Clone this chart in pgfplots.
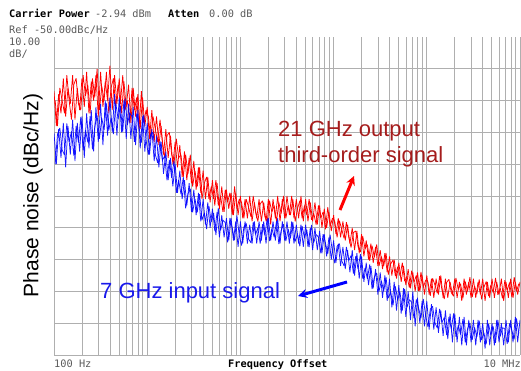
\documentclass[border=0pt]{standalone}
\usepackage{pgfplots}
\usepackage{pgfplotstable}
\pgfplotsset{compat=1.18}
\usetikzlibrary{arrows.meta}
\usepackage{fontspec}
\setmainfont{Liberation Sans}
\newfontfamily\monofont{DejaVu Sans Mono}
\definecolor{gridgray}{RGB}{175,175,175}
\definecolor{txtred}{RGB}{165,28,28}
\definecolor{txtblue}{RGB}{25,25,235}
\definecolor{hdrgray}{RGB}{90,90,90}

\pgfplotstableread{
x y
2.000 -67
2.025 -78
2.050 -68
2.075 -74
2.100 -63
2.125 -75
2.150 -66
2.175 -71
2.200 -62
2.225 -76
2.250 -66
2.275 -73
2.300 -63
2.325 -72
2.350 -61
2.375 -74
2.400 -64
2.425 -70
2.450 -62
2.475 -75
2.500 -61
2.525 -72
2.550 -64
2.575 -70
2.600 -59
2.625 -73
2.650 -62
2.675 -71
2.700 -63
2.725 -74
2.750 -64
2.775 -72
2.800 -65
2.825 -77
2.850 -66
2.875 -75
2.900 -68
2.925 -79
2.950 -69
2.975 -78
3.000 -72
3.025 -82
3.050 -73
3.075 -83
3.100 -75
3.125 -84
3.150 -78
3.175 -87
3.200 -79
3.225 -88
3.250 -81
3.275 -90
3.300 -83
3.325 -91
3.350 -84
3.375 -94
3.400 -86
3.425 -95
3.450 -88
3.475 -96
3.500 -89
3.525 -98
3.550 -91
3.575 -99
3.600 -92
3.625 -101
3.650 -94
3.675 -102
3.700 -95
3.725 -103
3.750 -96
3.775 -104
3.800 -97
3.825 -105
3.850 -98
3.875 -104
3.900 -99
3.925 -106
3.950 -99
3.975 -106
4.000 -100
4.025 -107
4.050 -101
4.075 -107
4.100 -100
4.125 -108
4.150 -102
4.175 -107
4.200 -101
4.225 -108
4.250 -102
4.275 -108
4.300 -101
4.325 -109
4.350 -101
4.375 -107
4.400 -100
4.425 -108
4.450 -101
4.475 -107
4.500 -100
4.525 -106
4.550 -100
4.575 -107
4.600 -101
4.625 -107
4.650 -100
4.675 -108
4.700 -101
4.725 -108
4.750 -102
4.775 -108
4.800 -102
4.825 -109
4.850 -103
4.875 -110
4.900 -104
4.925 -110
4.950 -105
4.975 -111
5.000 -106
5.025 -112
5.050 -107
5.075 -113
5.100 -108
5.125 -114
5.150 -109
5.175 -115
5.200 -110
5.225 -117
5.250 -111
5.275 -118
5.300 -112
5.325 -119
5.350 -114
5.375 -120
5.400 -115
5.425 -121
5.450 -116
5.475 -122
5.500 -117
5.525 -123
5.550 -118
5.575 -124
5.600 -119
5.625 -125
5.650 -120
5.675 -126
5.700 -121
5.725 -127
5.750 -122
5.775 -128
5.800 -123
5.825 -129
5.850 -124
5.875 -130
5.900 -124
5.925 -130
5.950 -125
5.975 -131
6.000 -125
6.025 -131
6.050 -126
6.075 -132
6.100 -126
6.125 -131
6.150 -125
6.175 -132
6.200 -126
6.225 -132
6.250 -127
6.275 -131
6.300 -126
6.325 -132
6.350 -127
6.375 -133
6.400 -126
6.425 -131
6.450 -127
6.475 -132
6.500 -126
6.525 -132
6.550 -127
6.575 -131
6.600 -126
6.625 -133
6.650 -127
6.675 -132
6.700 -126
6.725 -132
6.750 -127
6.775 -131
6.800 -126
6.825 -133
6.850 -127
6.875 -132
6.900 -126
6.925 -132
6.950 -127
6.975 -131
7.000 -127
}\redtab

\pgfplotstableread{
x y
2.0125 -70
2.0375 -78
2.0625 -66
2.0875 -70
2.1125 -74
2.1375 -62
2.1625 -70
2.1875 -76
2.2125 -65
2.2375 -63
2.2625 -71
2.2875 -73
2.3125 -62
2.3375 -68.5
2.3625 -65
2.3875 -74
2.4125 -63
2.4375 -69
2.4625 -60
2.4875 -73
2.5125 -65.5
2.5375 -70
2.5625 -61
2.5875 -74
2.6125 -66
2.6375 -63
2.6625 -72
2.6875 -65
2.7125 -71
2.7375 -62
2.7625 -73
2.7875 -70
2.8125 -77
2.8375 -66
2.8625 -73
2.8875 -69
2.9125 -79
2.9375 -67
2.9625 -77
2.9875 -73
3.0125 -75
3.0375 -82
3.0625 -75
3.0875 -79
3.1125 -83
3.1375 -76
3.1625 -83
3.1875 -88
3.2125 -81
3.2375 -80
3.2625 -87
3.2875 -90
3.3125 -82
3.3375 -88
3.3625 -87
3.3875 -94
3.4125 -87
3.4375 -93
3.4625 -87
3.4875 -97
3.5125 -92
3.5375 -97
3.5625 -91
3.5875 -101
3.6125 -96
3.6375 -94
3.6625 -101
3.6875 -97
3.7125 -101
3.7375 -95
3.7625 -103
3.7875 -100
3.8125 -105
3.8375 -98
3.8625 -102
3.8875 -99
3.9125 -106
3.9375 -97
3.9625 -104
3.9875 -101
4.0125 -102
4.0375 -107
4.0625 -101
4.0875 -103.5
4.1125 -106.5
4.1375 -100
4.1625 -105
4.1875 -108
4.2125 -102.5
4.2375 -101.5
4.2625 -106.5
4.2875 -108
4.3125 -101.5
4.3375 -105
4.3625 -103
4.3875 -108
4.4125 -102
4.4375 -105.5
4.4625 -100
4.4875 -107
4.5125 -103
4.5375 -106
4.5625 -101
4.5875 -108
4.6125 -104
4.6375 -101.5
4.6625 -107
4.6875 -103
4.7125 -106
4.7375 -101
4.7625 -107.5
4.7875 -105.5
4.8125 -109
4.8375 -103
4.8625 -107
4.8875 -105
4.9125 -110.5
4.9375 -103.5
4.9625 -109.5
4.9875 -107
5.0125 -108
5.0375 -113
5.0625 -107.8
5.0875 -110.5
5.1125 -113.3
5.1375 -108.2
5.1625 -113
5.1875 -116.2
5.2125 -111.5
5.2375 -111
5.2625 -116
5.2875 -117.6
5.3125 -112.6
5.3375 -116.6
5.3625 -115.3
5.3875 -120.4
5.4125 -115.6
5.4375 -119.3
5.4625 -115.2
5.4875 -122
5.5125 -119
5.5375 -122
5.5625 -117.9
5.5875 -124.7
5.6125 -121.4
5.6375 -120.1
5.6625 -125.2
5.6875 -122.2
5.7125 -125.1
5.7375 -121
5.7625 -126.8
5.7875 -125.2
5.8125 -128.8
5.8375 -123.5
5.8625 -127.1
5.8875 -125
5.9125 -129.9
5.9375 -123.9
5.9625 -128.7
5.9875 -126.5
6.0125 -127
6.0375 -131.4
6.0625 -125.9
6.0875 -128
6.1125 -130.6
6.1375 -125.2
6.1625 -129.5
6.1875 -132.4
6.2125 -127.2
6.2375 -126.2
6.2625 -130.4
6.2875 -131.5
6.3125 -125.8
6.3375 -129.4
6.3625 -127.6
6.3875 -132.2
6.4125 -126.9
6.4375 -130
6.4625 -125.5
6.4875 -131.8
6.5125 -128.3
6.5375 -130.8
6.5625 -126.2
6.5875 -132.5
6.6125 -128.7
6.6375 -126.9
6.6625 -131.5
6.6875 -128
6.7125 -130.4
6.7375 -125.8
6.7625 -131.1
6.7875 -129
6.8125 -132.2
6.8375 -126.5
6.8625 -129.7
6.8875 -127.2
6.9125 -131.8
6.9375 -125.5
6.9625 -130
6.9875 -127.6
}\redtabb

\pgfplotstableread{
x y
2.000 -80
2.025 -90
2.050 -79
2.075 -88
2.100 -77
2.125 -91
2.150 -78
2.175 -87
2.200 -76
2.225 -89
2.250 -77
2.275 -86
2.300 -75
2.325 -88
2.350 -74
2.375 -85
2.400 -73
2.425 -86
2.450 -72
2.475 -83
2.500 -71
2.525 -84
2.550 -70
2.575 -81
2.600 -69
2.625 -80
2.650 -68
2.675 -81
2.700 -69
2.725 -80
2.750 -70
2.775 -82
2.800 -71
2.825 -82
2.850 -72
2.875 -84
2.900 -73
2.925 -85
2.950 -75
2.975 -86
3.000 -77
3.025 -87
3.050 -79
3.075 -89
3.100 -81
3.125 -91
3.150 -83
3.175 -93
3.200 -86
3.225 -95
3.250 -88
3.275 -97
3.300 -90
3.325 -99
3.350 -92
3.375 -101
3.400 -95
3.425 -103
3.450 -96
3.475 -105
3.500 -98
3.525 -106
3.550 -99
3.575 -108
3.600 -101
3.625 -109
3.650 -102
3.675 -110
3.700 -104
3.725 -111
3.750 -105
3.775 -113
3.800 -106
3.825 -113
3.850 -107
3.875 -114
3.900 -107
3.925 -114
3.950 -108
3.975 -116
4.000 -108
4.025 -115
4.050 -108
4.075 -115
4.100 -109
4.125 -115
4.150 -108
4.175 -115
4.200 -108
4.225 -114
4.250 -108
4.275 -115
4.300 -107
4.325 -114
4.350 -108
4.375 -114
4.400 -107
4.425 -115
4.450 -108
4.475 -114
4.500 -108
4.525 -115
4.550 -108
4.575 -115
4.600 -109
4.625 -115
4.650 -109
4.675 -116
4.700 -109
4.725 -116
4.750 -110
4.775 -117
4.800 -110
4.825 -117
4.850 -111
4.875 -118
4.900 -112
4.925 -119
4.950 -113
4.975 -120
5.000 -114
5.025 -121
5.050 -115
5.075 -122
5.100 -116
5.125 -123
5.150 -117
5.175 -124
5.200 -117
5.225 -125
5.250 -118
5.275 -126
5.300 -119
5.325 -127
5.350 -121
5.375 -128
5.400 -122
5.425 -129
5.450 -123
5.475 -131
5.500 -124
5.525 -132
5.550 -125
5.575 -133
5.600 -126
5.625 -135
5.650 -127
5.675 -136
5.700 -128
5.725 -137
5.750 -129
5.775 -138
5.800 -130
5.825 -139
5.850 -130
5.875 -141
5.900 -132
5.925 -140
5.950 -133
5.975 -141
6.000 -133
6.025 -142
6.050 -134
6.075 -142
6.100 -135
6.125 -143
6.150 -136
6.175 -144
6.200 -136
6.225 -145
6.250 -137
6.275 -146
6.300 -137
6.325 -146
6.350 -138
6.375 -147
6.400 -138
6.425 -147
6.450 -139
6.475 -146
6.500 -139
6.525 -147
6.550 -139
6.575 -146
6.600 -140
6.625 -148
6.650 -139
6.675 -147
6.700 -140
6.725 -147
6.750 -139
6.775 -146
6.800 -140
6.825 -147
6.850 -139
6.875 -146
6.900 -139
6.925 -146
6.950 -138
6.975 -146
7.000 -139
}\bluetab

\pgfplotstableread{
x y
2.0125 -90
2.0375 -80.6
2.0625 -78.6
2.0875 -85.5
2.1125 -87.1
2.1375 -77.2
2.1625 -83
2.1875 -79.7
2.2125 -87.3
2.2375 -78
2.2625 -83.2
2.2875 -75.1
2.3125 -85.6
2.3375 -79.2
2.3625 -83.1
2.3875 -74.9
2.4125 -85.3
2.4375 -78.2
2.4625 -74.7
2.4875 -82
2.5125 -75.5
2.5375 -79.2
2.5625 -70.9
2.5875 -79.4
2.6125 -75.4
2.6375 -80.5
2.6625 -70.7
2.6875 -75.8
2.7125 -71.7
2.7375 -79.9
2.7625 -69.4
2.7875 -77.6
2.8125 -73.9
2.8375 -75.1
2.8625 -83
2.8875 -74
2.9125 -78.3
2.9375 -83.2
2.9625 -74.4
2.9875 -82.3
3.0125 -87
3.0375 -80.5
3.0625 -80
3.0875 -87
3.1125 -89.6
3.1375 -82.7
3.1625 -88.8
3.1875 -87.4
3.2125 -95.1
3.2375 -88.7
3.2625 -94.3
3.2875 -88.9
3.3125 -99
3.3375 -95
3.3625 -99.5
3.3875 -94
3.4125 -103.9
3.4375 -99.3
3.4625 -97.7
3.4875 -105.1
3.5125 -100.9
3.5375 -105.1
3.5625 -99.4
3.5875 -107.6
3.6125 -105.3
3.6375 -110.4
3.6625 -103.1
3.6875 -108.2
3.7125 -105.3
3.7375 -112.3
3.7625 -103.8
3.7875 -110.8
3.8125 -107.6
3.8375 -108.4
3.8625 -114.6
3.8875 -106.9
3.9125 -110.1
3.9375 -113.9
3.9625 -106.1
3.9875 -112.4
4.0125 -115.6
4.0375 -109.7
4.0625 -108.6
4.0875 -113.5
4.1125 -114.7
4.1375 -108.2
4.1625 -112.1
4.1875 -110
4.2125 -115
4.2375 -108.9
4.2625 -112.4
4.2875 -107.1
4.3125 -114.2
4.3375 -110.2
4.3625 -113
4.3875 -107.8
4.4125 -115.1
4.4375 -110.8
4.4625 -108.9
4.4875 -114.2
4.5125 -110.4
4.5375 -113.3
4.5625 -108.2
4.5875 -114.3
4.6125 -112.1
4.6375 -115.8
4.6625 -109.5
4.6875 -113.2
4.7125 -110.6
4.7375 -116.1
4.7625 -109.1
4.7875 -114.6
4.8125 -112.1
4.8375 -112.9
4.8625 -118
4.8875 -112
4.9125 -114.8
4.9375 -118.2
4.9625 -112.2
4.9875 -117.6
5.0125 -121.2
5.0375 -115.8
5.0625 -115
5.0875 -120.4
5.1125 -122
5.1375 -116
5.1625 -120.3
5.1875 -118.7
5.2125 -124.4
5.2375 -118.9
5.2625 -123
5.2875 -118.3
5.3125 -126
5.3375 -122.6
5.3625 -126.1
5.3875 -121.5
5.4125 -129.3
5.4375 -125.5
5.4625 -124.2
5.4875 -130
5.5125 -126.6
5.5375 -130
5.5625 -125.5
5.5875 -132.1
5.6125 -130.2
5.6375 -134.4
5.6625 -128.4
5.6875 -132.6
5.7125 -130.2
5.7375 -136
5.7625 -129.2
5.7875 -135
5.8125 -132.6
5.8375 -133.4
5.8625 -138.5
5.8875 -132.5
5.9125 -135.3
5.9375 -138.5
5.9625 -132.4
5.9875 -137.6
6.0125 -141.2
6.0375 -135.6
6.0625 -134.7
6.0875 -139.9
6.1125 -141.5
6.1375 -135.5
6.1625 -139.8
6.1875 -138.2
6.2125 -143.7
6.2375 -138
6.2625 -141.8
6.2875 -136.9
6.3125 -144.3
6.3375 -140.6
6.3625 -143.6
6.3875 -138.7
6.4125 -146.1
6.4375 -141.8
6.4625 -139.9
6.4875 -145.2
6.5125 -141.3
6.5375 -144.3
6.5625 -139.2
6.5875 -145.3
6.6125 -143
6.6375 -146.6
6.6625 -140.2
6.6875 -143.8
6.7125 -141
6.7375 -146.2
6.7625 -139
6.7875 -144.2
6.8125 -141.4
6.8375 -141.8
6.8625 -146.5
6.8875 -140.1
6.9125 -142.3
6.9375 -145.1
6.9625 -138.5
6.9875 -143.3
}\bluetabb

\begin{document}
\begin{tikzpicture}
\useasboundingbox (0,0) rectangle (521pt,371pt);
\begin{axis}[
  at={(54pt,16pt)}, anchor=south west,
  scale only axis, width=466pt, height=318pt,
  xmin=2, xmax=7, ymin=-150, ymax=-50,
  xtick={2,3,4,5,6,7},
  minor xtick={2.30103,2.47712,2.60206,2.69897,2.77815,2.84510,2.90309,2.95424,
               3.30103,3.47712,3.60206,3.69897,3.77815,3.84510,3.90309,3.95424,
               4.30103,4.47712,4.60206,4.69897,4.77815,4.84510,4.90309,4.95424,
               5.30103,5.47712,5.60206,5.69897,5.77815,5.84510,5.90309,5.95424,
               6.30103,6.47712,6.60206,6.69897,6.77815,6.84510,6.90309,6.95424},
  ytick={-150,-140,-130,-120,-110,-100,-90,-80,-70,-60},
  xticklabels={}, yticklabels={},
  major tick length=0pt, minor tick length=0pt,
  grid=both,
  major grid style={draw=gridgray, line width=0.9pt},
  minor grid style={draw=gridgray, line width=0.9pt},
  axis line style={draw=none},
  clip=true,
]
\addplot[red, line width=0.75pt, line join=bevel] table[x=x,y=y] {\redtab};
\addplot[red, line width=0.75pt, line join=bevel] table[x=x,y=y] {\redtabb};
\addplot[blue, line width=0.75pt, line join=bevel, opacity=0.9] table[x=x,y=y] {\bluetab};
\addplot[blue, line width=0.75pt, line join=bevel, opacity=0.9] table[x=x,y=y] {\bluetabb};
\end{axis}

% header
\node[anchor=base west, inner sep=0pt, font=\monofont\bfseries\fontsize{10.3}{12}\selectfont] at (9pt,353pt) {Carrier Power};
\node[anchor=base west, inner sep=0pt, text=hdrgray, font=\monofont\fontsize{10.3}{12}\selectfont] at (95pt,353pt) {-2.94 dBm};
\node[anchor=base west, inner sep=0pt, font=\monofont\bfseries\fontsize{10.3}{12}\selectfont] at (168pt,353pt) {Atten};
\node[anchor=base west, inner sep=0pt, text=hdrgray, font=\monofont\fontsize{10.3}{12}\selectfont] at (209pt,353pt) {0.00 dB};
\node[anchor=base west, inner sep=0pt, text=hdrgray, font=\monofont\fontsize{10.3}{12}\selectfont] at (9pt,337pt) {Ref -50.00dBc/Hz};
\node[anchor=base west, inner sep=0pt, text=hdrgray, font=\monofont\fontsize{10.3}{12}\selectfont] at (9pt,325pt) {10.00};
\node[anchor=base west, inner sep=0pt, text=hdrgray, font=\monofont\fontsize{10.3}{12}\selectfont] at (9pt,313pt) {dB/};
% bottom
\node[anchor=base west, inner sep=0pt, text=hdrgray, font=\monofont\fontsize{10.3}{12}\selectfont] at (54pt,3pt) {100 Hz};
\node[anchor=base west, inner sep=0pt, font=\monofont\bfseries\fontsize{10.3}{12}\selectfont] at (228pt,3pt) {Frequency Offset};
\node[anchor=base east, inner sep=0pt, text=hdrgray, font=\monofont\fontsize{10.3}{12}\selectfont] at (521pt,3pt) {10 MHz};
% y label
\node[rotate=90, inner sep=0pt, font=\fontsize{21}{24}\selectfont] at (33pt,175.5pt) {Phase noise (dBc/Hz)};
% annotations
\node[anchor=base west, inner sep=0pt, text=txtred, font=\fontsize{22}{26}\selectfont] at (278pt,234pt) {21 GHz output};
\node[anchor=base west, inner sep=0pt, text=txtred, font=\fontsize{22}{26}\selectfont] at (278pt,208pt) {third-order signal};
\node[anchor=base west, inner sep=0pt, text=txtblue, font=\fontsize{22}{26}\selectfont] at (100pt,72pt) {7 GHz input signal};
\draw[red, line width=3pt, -{Stealth[length=9pt,width=9pt]}] (340pt,161pt) -- (354pt,195pt);
\draw[blue, line width=3pt, -{Stealth[length=9pt,width=9pt]}] (347pt,89pt) -- (298pt,75pt);
\end{tikzpicture}
\end{document}
